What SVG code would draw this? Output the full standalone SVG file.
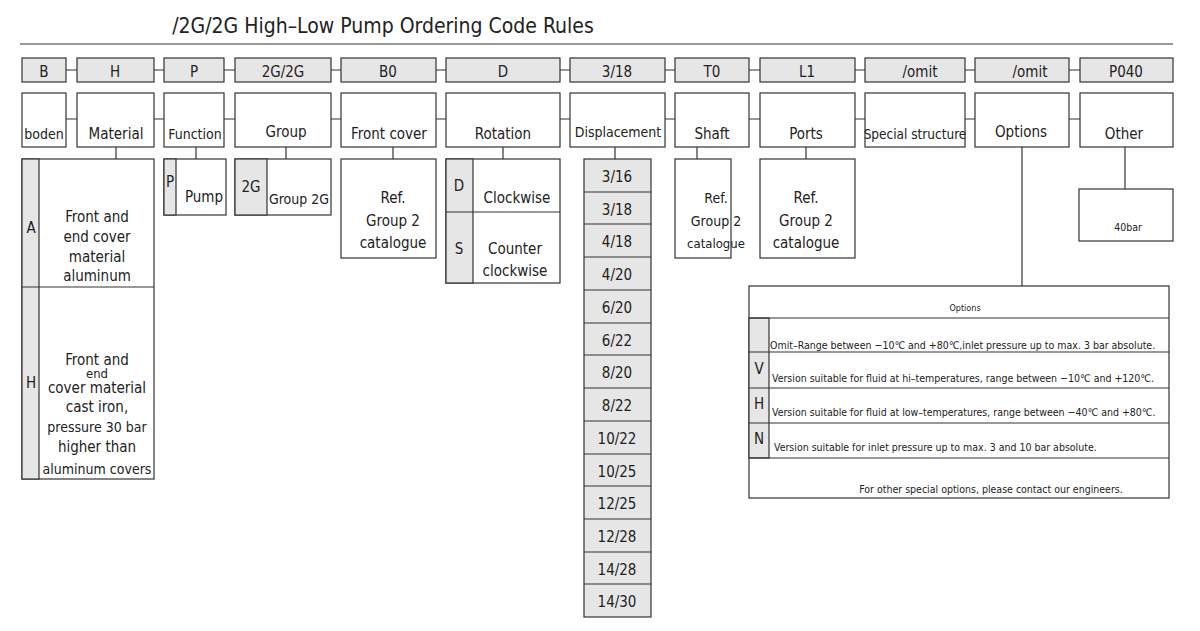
<svg xmlns="http://www.w3.org/2000/svg" width="1200" height="631" viewBox="0 0 1200 631">
<style>
text{font-family:"DejaVu Sans Condensed","DejaVu Sans",sans-serif;fill:#222;text-anchor:middle;font-size:15px}
.g{fill:#e6e6e6;stroke:#333;stroke-width:1.2}
.w{fill:#fff;stroke:#333;stroke-width:1.2}
.l{stroke:#333;stroke-width:1.2;fill:none}
.s{font-size:10.5px}
.sl{font-size:10.5px;text-anchor:start}
</style>
<rect width="1200" height="631" fill="#fff"/>
<text x="383" y="33" style="font-size:21px">/2G/2G High–Low Pump Ordering Code Rules</text>
<line class="l" x1="20" y1="44" x2="1173" y2="44"/>
<g id="connectors">
<path class="l" d="M66 70H77M154 70H164M224 70H235M331 70H341M436 70H446M560 70H570M665 70H675M749 70H760M855 70H865M965 70H975M1069 70H1080"/>
<path class="l" d="M66 119H77M154 119H164M224 119H235M331 119H341M436 119H446M560 119H570M665 119H675M749 119H760M855 119H865M965 119H975M1069 119H1080"/>
<path class="l" d="M116 147V159M196 147V159M286 147V159M393 147V159M503 147V159M615 147V159M697 147V159M806 147V159M1022 147V286M1125 147V189"/>
</g>
<g id="codes">
<rect class="g" x="22" y="58" width="44" height="24"/><text x="44" y="77">B</text>
<rect class="g" x="77" y="58" width="77" height="24"/><text x="115" y="77">H</text>
<rect class="g" x="164" y="58" width="60" height="24"/><text x="194" y="77">P</text>
<rect class="g" x="235" y="58" width="96" height="24"/><text x="283" y="77">2G/2G</text>
<rect class="g" x="341" y="58" width="95" height="24"/><text x="388" y="77">B0</text>
<rect class="g" x="446" y="58" width="114" height="24"/><text x="503" y="77">D</text>
<rect class="g" x="570" y="58" width="95" height="24"/><text x="617" y="77">3/18</text>
<rect class="g" x="675" y="58" width="74" height="24"/><text x="712" y="77">T0</text>
<rect class="g" x="760" y="58" width="95" height="24"/><text x="807" y="77">L1</text>
<rect class="g" x="865" y="58" width="100" height="24"/><text x="920" y="77">/omit</text>
<rect class="g" x="975" y="58" width="94" height="24"/><text x="1030" y="77">/omit</text>
<rect class="g" x="1080" y="58" width="93" height="24"/><text x="1126" y="77">P040</text>
</g>
<g id="labels">
<rect class="w" x="22" y="93" width="44" height="54"/><text x="44" y="139" style="font-size:14px">boden</text>
<rect class="w" x="77" y="93" width="77" height="54"/><text x="116" y="139">Material</text>
<rect class="w" x="164" y="93" width="60" height="54"/><text x="195" y="139" style="font-size:14px">Function</text>
<rect class="w" x="235" y="93" width="96" height="54"/><text x="286" y="137">Group</text>
<rect class="w" x="341" y="93" width="95" height="54"/><text x="389" y="139">Front cover</text>
<rect class="w" x="446" y="93" width="114" height="54"/><text x="503" y="139">Rotation</text>
<rect class="w" x="570" y="93" width="95" height="54"/><text x="618" y="137" style="font-size:14px">Displacement</text>
<rect class="w" x="675" y="93" width="74" height="54"/><text x="712" y="139">Shaft</text>
<rect class="w" x="760" y="93" width="95" height="54"/><text x="806" y="139">Ports</text>
<rect class="w" x="865" y="93" width="100" height="54"/><text x="915" y="139" style="font-size:13.5px">Special structure</text>
<rect class="w" x="975" y="93" width="94" height="54"/><text x="1021" y="137">Options</text>
<rect class="w" x="1080" y="93" width="93" height="54"/><text x="1124" y="139">Other</text>
</g>
<g id="material">
<rect class="w" x="22" y="159" width="132" height="320"/>
<rect class="g" x="22" y="159" width="17" height="320"/>
<line class="l" x1="22" y1="287" x2="154" y2="287"/>
<text x="31" y="233">A</text>
<text x="97" y="222">Front and</text><text x="97" y="242">end cover</text><text x="97" y="262">material</text><text x="97" y="281">aluminum</text>
<text x="31" y="388">H</text>
<text x="97" y="365">Front and</text><text x="97" y="378" style="font-size:13px">end</text><text x="97" y="393">cover material</text><text x="97" y="412">cast iron,</text><text x="97" y="432" style="font-size:14px">pressure 30 bar</text><text x="97" y="452">higher than</text><text x="97" y="474" style="font-size:14px">aluminum covers</text>
</g>
<g id="function">
<rect class="w" x="164" y="159" width="62" height="56"/><rect class="g" x="164" y="159" width="12" height="56"/>
<text x="170" y="187">P</text><text x="204" y="202">Pump</text>
</g>
<g id="group">
<rect class="w" x="235" y="159" width="96" height="56"/><rect class="g" x="235" y="159" width="32" height="56"/>
<text x="251" y="192">2G</text><text x="299" y="204" style="font-size:14px">Group 2G</text>
</g>
<g id="frontcover">
<rect class="w" x="341" y="159" width="95" height="99"/>
<text x="393" y="203">Ref.</text><text x="393" y="226">Group 2</text><text x="393" y="248">catalogue</text>
</g>
<g id="rotation">
<rect class="w" x="446" y="159" width="114" height="124"/><rect class="g" x="446" y="159" width="27" height="124"/>
<line class="l" x1="446" y1="212" x2="560" y2="212"/>
<text x="459" y="191">D</text><text x="517" y="203">Clockwise</text>
<text x="459" y="254">S</text><text x="515" y="254">Counter</text><text x="515" y="276">clockwise</text>
</g>
<g id="displacement">
<rect class="g" x="584" y="159" width="67" height="458"/>
<path class="l" d="M584 192H651M584 224H651M584 257H651M584 290H651M584 323H651M584 355H651M584 388H651M584 421H651M584 454H651M584 486H651M584 519H651M584 552H651M584 584H651"/>
<text x="617" y="182">3/16</text><text x="617" y="215">3/18</text><text x="617" y="247">4/18</text><text x="617" y="280">4/20</text><text x="617" y="313">6/20</text><text x="617" y="346">6/22</text><text x="617" y="378">8/20</text><text x="617" y="411">8/22</text><text x="617" y="444">10/22</text><text x="617" y="477">10/25</text><text x="617" y="509">12/25</text><text x="617" y="542">12/28</text><text x="617" y="575">14/28</text><text x="617" y="607">14/30</text>
</g>
<g id="shaft">
<rect class="w" x="675" y="159" width="56" height="99"/>
<text x="716" y="203" style="font-size:14px">Ref.</text><text x="716" y="226" style="font-size:14px">Group 2</text><text x="716" y="248" style="font-size:13px">catalogue</text>
</g>
<g id="ports">
<rect class="w" x="760" y="159" width="95" height="99"/>
<text x="806" y="203">Ref.</text><text x="806" y="226">Group 2</text><text x="806" y="248">catalogue</text>
</g>
<g id="other">
<rect class="w" x="1079" y="189" width="94" height="52"/>
<text x="1128" y="231" class="s">40bar</text>
</g>
<g id="options">
<rect class="w" x="749" y="286" width="420" height="212"/>
<rect class="g" x="749" y="318" width="20" height="140"/>
<path class="l" d="M749 318H1169M749 352H1169M749 388H1169M749 423H1169M749 458H1169"/>
<text x="965" y="311" style="font-size:9px">Options</text>
<text x="770" y="349" class="sl">Omit–Range between −10℃ and +80℃,inlet pressure up to max. 3 bar absolute.</text>
<text x="759" y="374">V</text><text x="772" y="382" class="sl">Version suitable for fluid at hi–temperatures, range between −10℃ and +120℃.</text>
<text x="759" y="409">H</text><text x="772" y="416" class="sl">Version suitable for fluid at low–temperatures, range between −40℃ and +80℃.</text>
<text x="759" y="444">N</text><text x="774" y="451" class="sl">Version suitable for inlet pressure up to max. 3 and 10 bar absolute.</text>
<text x="991" y="493" class="s">For other special options, please contact our engineers.</text>
</g>
</svg>
